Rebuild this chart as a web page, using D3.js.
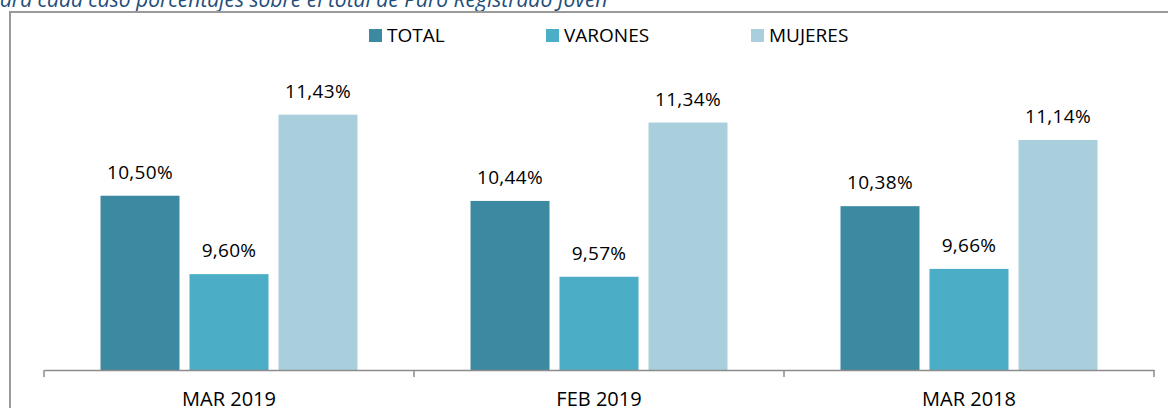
<!DOCTYPE html>
<html>
<head>
<meta charset="utf-8">
<script src="https://cdn.jsdelivr.net/npm/d3@7"></script>
<style>
  html, body { margin: 0; padding: 0; background: #fff; }
  svg { display: block; font-family: "Open Sans", "Noto Sans", sans-serif; }
</style>
</head>
<body>
<div id="chart"></div>
<script>
// Paro registrado joven: porcentajes por sexo
const categories = ['MAR 2019', 'FEB 2019', 'MAR 2018'];
const series = ['TOTAL', 'VARONES', 'MUJERES'];
const totalValues = [10.50, 10.44, 10.38];
const varonesValues = [9.60, 9.57, 9.66];
const mujeresValues = [11.43, 11.34, 11.14];
const seriesColors = ['#3C8AA2', '#4BADC6', '#A9CFDD'];

const width = 1168, height = 408;
const axisY = 370, axisLeft = 44, axisRight = 1154;

const svg = d3.select('#chart').append('svg')
  .attr('width', width)
  .attr('height', height);

// title line, cut off by the top edge like the source
svg.append('text')
  .attr('x', 0)
  .attr('y', 7)
  .attr('fill', '#1F4E79')
  .style('font-style', 'italic')
  .style('font-size', '21px')
  .text('ara cada caso porcentajes sobre el total de Paro Registrado Joven');

// chart frame
svg.append('rect')
  .attr('x', 10)
  .attr('y', 12)
  .attr('width', 1170)
  .attr('height', 410)
  .attr('fill', 'none')
  .attr('stroke', '#9a9a9a')
  .attr('stroke-width', 2);

const rows = categories.map((c, i) => ({
  cat: c,
  vals: [totalValues[i], varonesValues[i], mujeresValues[i]]
}));

// Scales
const x0 = d3.scaleBand().domain(categories).range([axisLeft, axisRight]).padding(0);
const x1 = d3.scaleBand().domain(series).range([0, x0.bandwidth()])
  .paddingInner(0.1124).paddingOuter(0.635);
const y = d3.scaleLinear().domain([8.5, 12]).range([axisY, 65]);
const color = d3.scaleOrdinal().domain(series).range(seriesColors);

const fmt = v => d3.format('.2f')(v).replace('.', ',') + '%';

const groups = svg.selectAll('g.grp')
  .data(rows)
  .join('g')
  .attr('class', 'grp')
  .attr('transform', d => `translate(${x0(d.cat)},0)`);

const cells = groups.selectAll('g.cell')
  .data(d => d.vals.map((v, i) => ({ key: series[i], v })))
  .join('g')
  .attr('class', 'cell');

cells.append('rect')
  .attr('x', d => x1(d.key))
  .attr('y', d => y(d.v))
  .attr('width', x1.bandwidth())
  .attr('height', d => axisY - y(d.v))
  .attr('fill', d => color(d.key));

cells.append('text')
  .attr('x', d => x1(d.key) + x1.bandwidth() / 2)
  .attr('y', d => y(d.v) - 17)
  .attr('text-anchor', 'middle')
  .attr('fill', '#000')
  .style('font-size', '19px')
  .style('letter-spacing', '0.3px')
  .text(d => fmt(d.v));

// Category axis
const xAxis = d3.axisBottom(x0).tickSize(0).tickSizeOuter(0);
const ax = svg.append('g')
  .attr('transform', `translate(0,${axisY})`)
  .call(xAxis);
ax.select('.domain').attr('stroke', '#8c8c8c').attr('stroke-width', 1.5);
ax.selectAll('.tick text')
  .attr('y', 36)
  .attr('dy', 0)
  .attr('fill', '#000')
  .style('font-size', '20px')
  .style('font-family', '"Open Sans", sans-serif');

// separator ticks between categories
const edges = categories.map(c => x0(c)).concat([axisRight]);
ax.selectAll('line.sep')
  .data(edges)
  .join('line')
  .attr('class', 'sep')
  .attr('x1', d => d).attr('x2', d => d)
  .attr('y1', 0).attr('y2', 7)
  .attr('stroke', '#8c8c8c')
  .attr('stroke-width', 1.5);

// Legend
const legendX = [369, 546, 751];
const legend = svg.selectAll('g.leg')
  .data(series)
  .join('g')
  .attr('class', 'leg')
  .attr('transform', (d, i) => `translate(${legendX[i]},29)`);
legend.append('rect')
  .attr('width', 13).attr('height', 13)
  .attr('fill', d => color(d));
legend.append('text')
  .attr('x', 18)
  .attr('y', 13)
  .attr('fill', '#000')
  .style('font-size', '19px')
  .text(d => d);
</script>
</body>
</html>
